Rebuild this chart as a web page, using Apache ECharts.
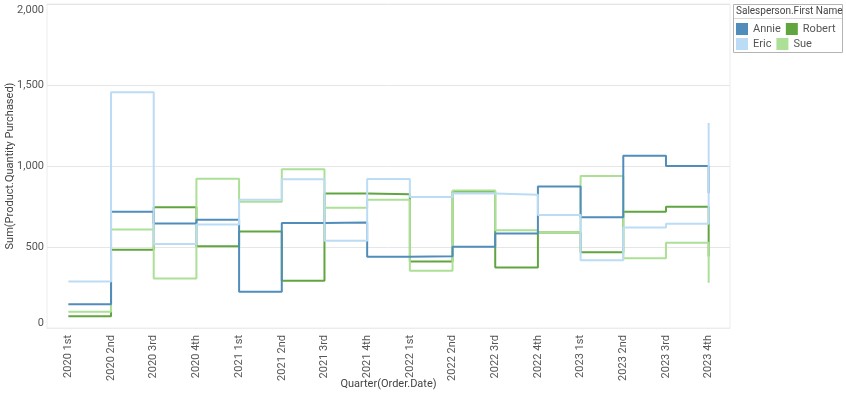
<!DOCTYPE html>
<html>
<head>
<meta charset="utf-8">
<script src="https://cdn.jsdelivr.net/npm/echarts@6/dist/echarts.min.js"></script>
<style>
  html, body { margin: 0; padding: 0; background: #fff; }
  #chart { width: 846px; height: 397px; }
</style>
</head>
<body>
<div id="chart"></div>
<script>
// quarters on the x axis
var quarters = ['2020 1st', '2020 2nd', '2020 3rd', '2020 4th',
  '2021 1st', '2021 2nd', '2021 3rd', '2021 4th',
  '2022 1st', '2022 2nd', '2022 3rd', '2022 4th',
  '2023 1st', '2023 2nd', '2023 3rd', '2023 4th']

// Sum(Product.Quantity Purchased) per salesperson
var annie = [147, 717, 645, 668, 223, 648, 651, 440, 443, 502, 584, 873, 684, 1063, 1000, 832]
var eric = [287, 1455, 518, 639, 791, 918, 539, 920, 809, 830, 822, 697, 418, 620, 643, 1265]
var robert = [73, 483, 746, 504, 596, 291, 830, 826, 410, 842, 373, 590, 467, 717, 748, 442]
var sue = [100, 608, 305, 922, 780, 980, 742, 791, 354, 848, 604, 590, 938, 430, 526, 279]

var yTicks = [0, 500, 1000, 1500, 2000]

var colors = {
  Annie: '#508dba',
  Eric: '#bbdcf4',
  Robert: '#60a540',
  Sue: '#ace096'
}

function stepSeries (name, data) {
  return {
    name: name,
    type: 'line',
    step: 'end',
    data: data,
    showSymbol: false,
    symbol: 'none',
    lineStyle: { width: 2, color: colors[name] },
    itemStyle: { color: colors[name] }
  }
}

var legendText = { color: '#555', fontSize: 11, fontFamily: 'Roboto', width: 31 }

var myChart = echarts.init(document.getElementById('chart'))
var option = {
  animation: false,
  textStyle: { fontFamily: 'Roboto' },
  grid: {
    left: 47,
    right: 116,
    top: 4,
    bottom: 69,
    containLabel: false,
    outerBoundsMode: 'none',
    show: true,
    borderColor: '#ececec',
    borderWidth: 1
  },
  legend: [
    {
      data: ['Annie', 'Robert'],
      left: 736,
      top: 23,
      padding: 0,
      itemWidth: 12,
      itemHeight: 12,
      itemGap: 5,
      icon: 'rect',
      textStyle: legendText
    },
    {
      data: ['Eric', 'Sue'],
      left: 736,
      top: 38,
      padding: 0,
      itemWidth: 12,
      itemHeight: 12,
      itemGap: 5,
      icon: 'rect',
      textStyle: legendText
    }
  ],
  graphic: [
    {
      type: 'rect',
      shape: { x: 733.5, y: 4.5, width: 109, height: 48 },
      style: { fill: 'none', stroke: '#b4b4b4', lineWidth: 1 }
    },
    {
      type: 'line',
      shape: { x1: 734, y1: 18.5, x2: 842, y2: 18.5 },
      style: { stroke: '#d8d8d8', lineWidth: 1 }
    },
    {
      type: 'text',
      left: 736,
      top: 6,
      style: { text: 'Salesperson.First Name', fill: '#444', font: '10px Roboto' }
    }
  ],
  xAxis: {
    type: 'category',
    data: quarters,
    boundaryGap: true,
    name: 'Quarter(Order.Date)',
    nameLocation: 'middle',
    nameGap: 51,
    nameMoveOverlap: false,
    nameTextStyle: { color: '#444', fontSize: 11 },
    axisLine: { show: true, lineStyle: { color: '#ececec' } },
    axisTick: { show: false },
    axisLabel: { rotate: 90, margin: 7, color: '#555', fontSize: 11 }
  },
  yAxis: {
    type: 'value',
    min: 0,
    max: 2000,
    interval: 500,
    name: 'Sum(Product.Quantity Purchased)',
    nameLocation: 'middle',
    nameRotate: 90,
    nameGap: 31,
    nameMoveOverlap: false,
    nameTextStyle: { color: '#444', fontSize: 11 },
    axisLine: { show: false },
    axisTick: { show: false },
    splitLine: { lineStyle: { color: '#e6e6e6' } },
    axisLabel: {
      margin: 3,
      color: '#555',
      fontSize: 11,
      formatter: function (value) {
        var s = value.toLocaleString('en-US')
        if (value === yTicks[yTicks.length - 1]) return '{top|' + s + '}'
        if (value === yTicks[0]) return '{bot|' + s + '}'
        return s
      },
      rich: {
        top: { padding: [12, 0, 0, 0], color: '#555', fontSize: 11 },
        bot: { padding: [0, 0, 10, 0], color: '#555', fontSize: 11 }
      }
    }
  },
  series: [
    stepSeries('Robert', robert),
    stepSeries('Sue', sue),
    stepSeries('Annie', annie),
    stepSeries('Eric', eric)
  ]
}
myChart.setOption(option)
</script>
</body>
</html>
